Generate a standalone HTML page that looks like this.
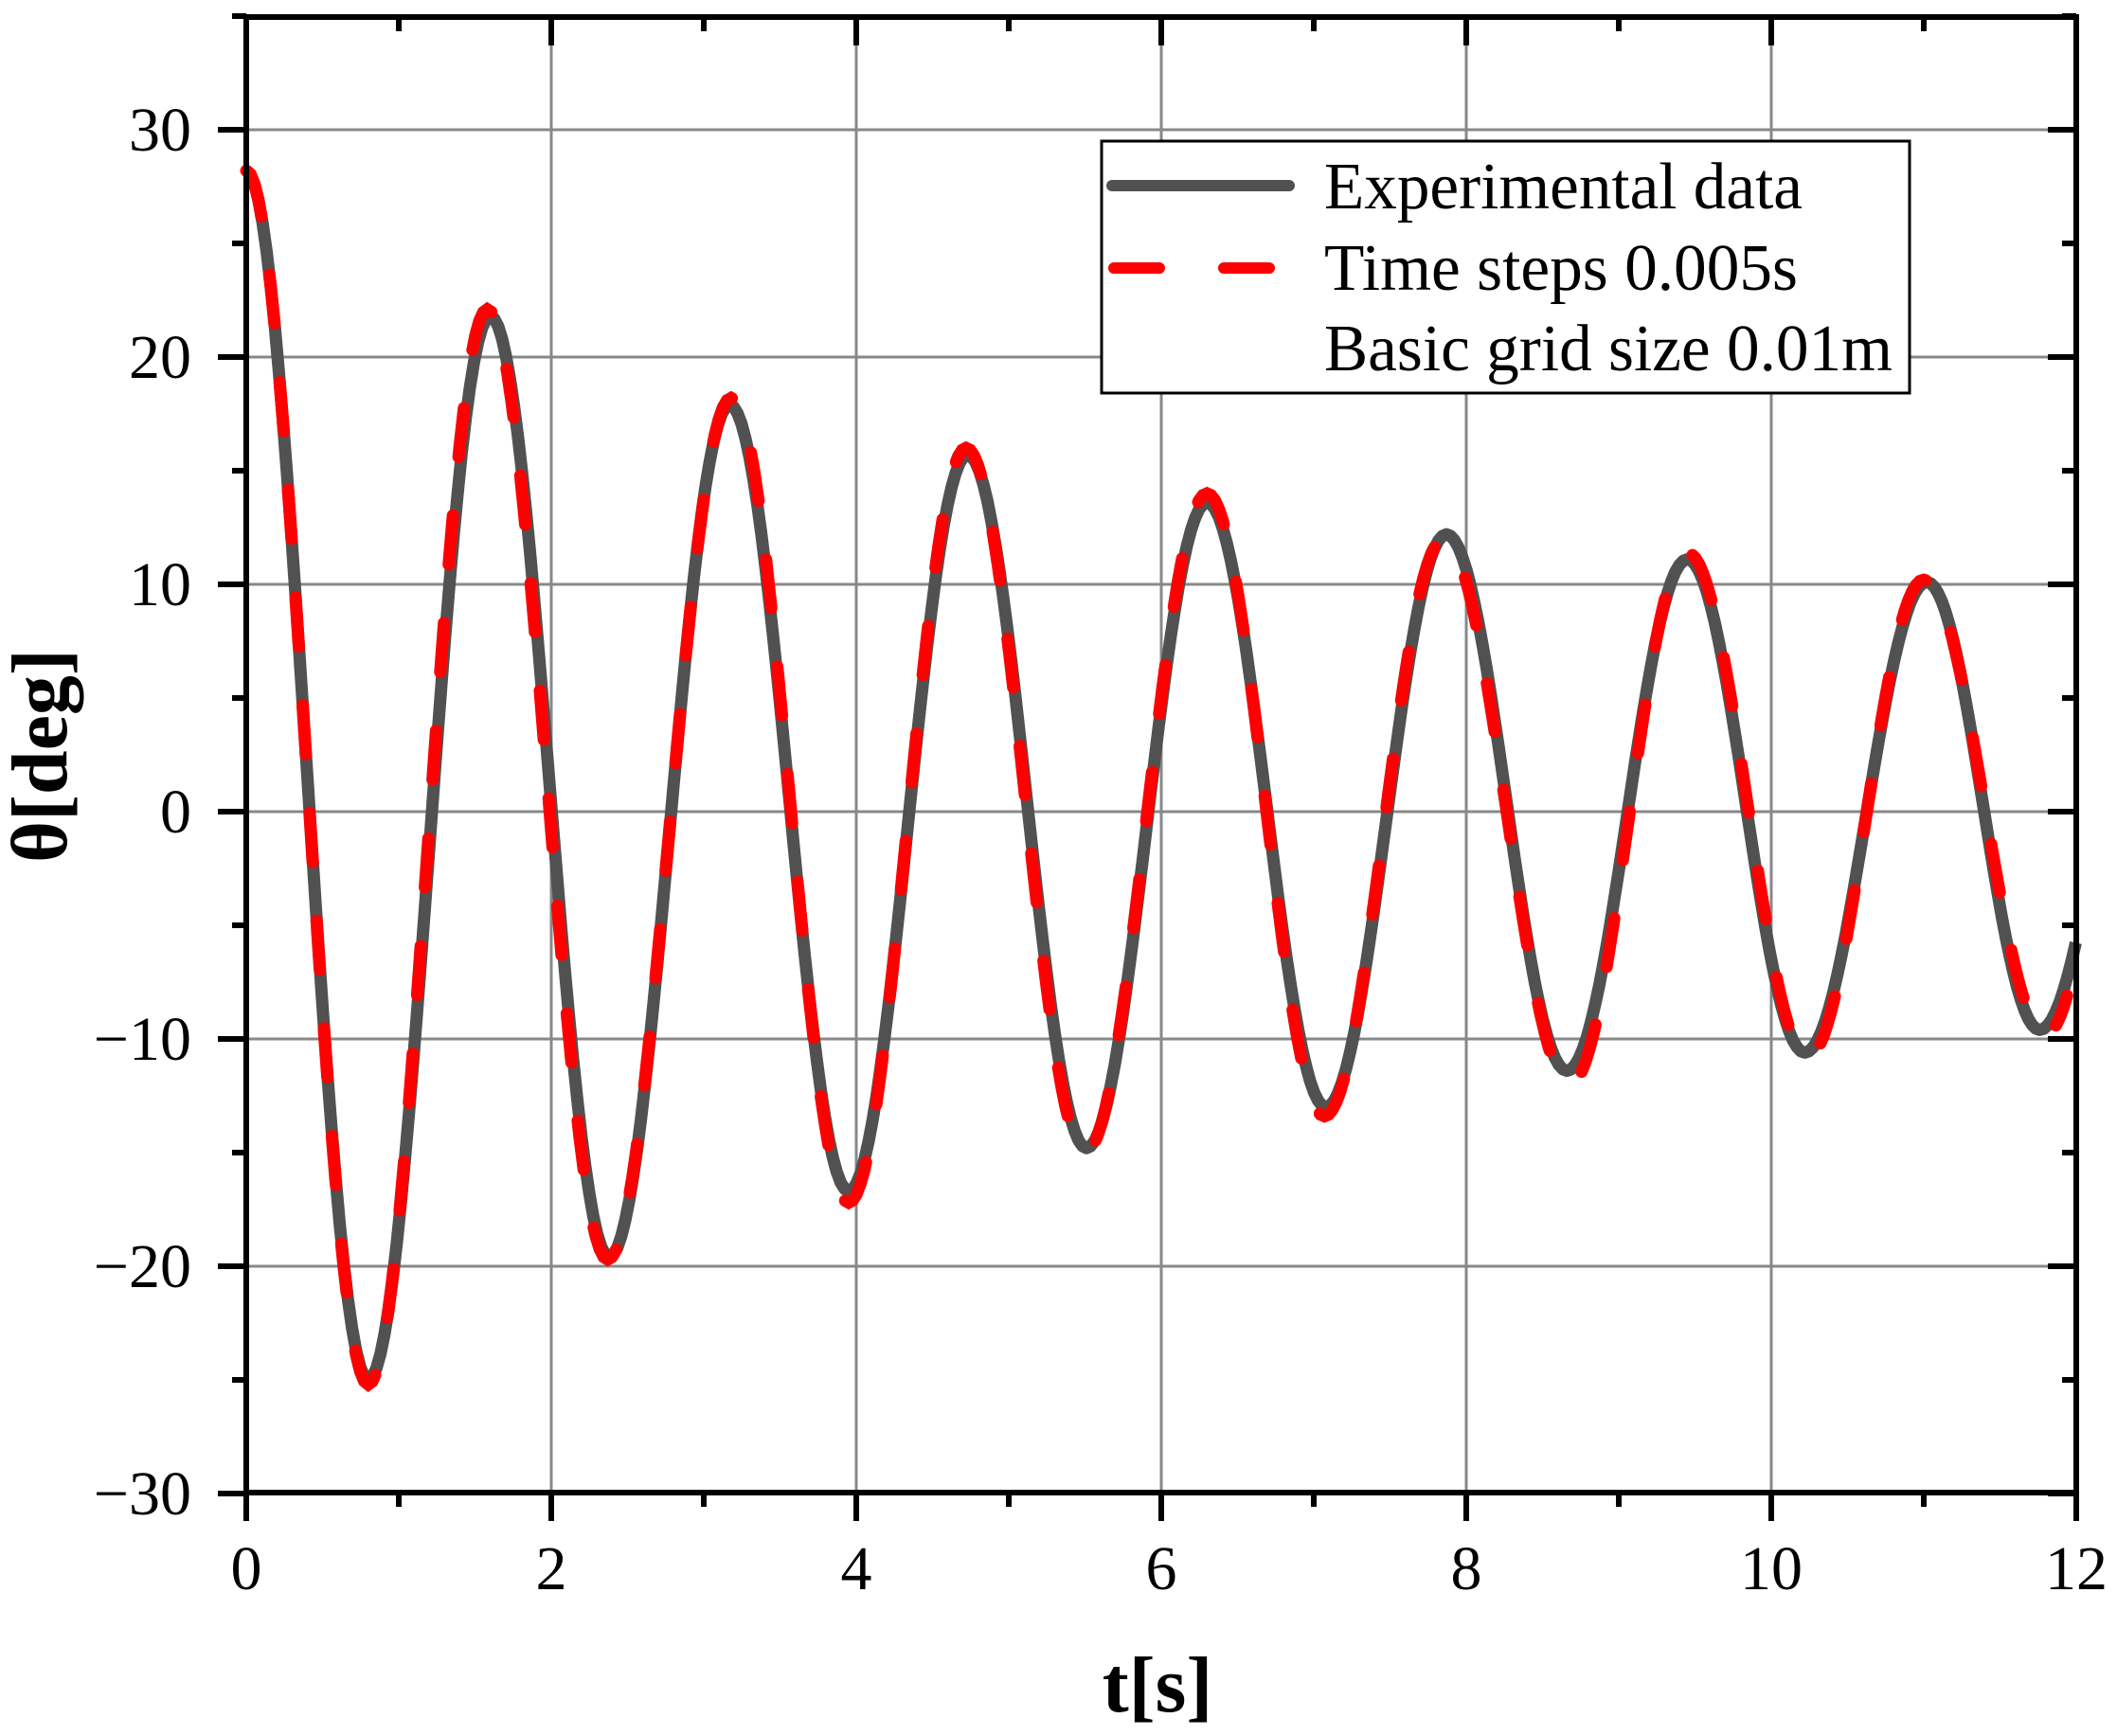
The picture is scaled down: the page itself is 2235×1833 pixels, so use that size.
<!DOCTYPE html>
<html><head><meta charset="utf-8"><style>
html,body{margin:0;padding:0;background:#fff}
svg{display:block}
text{font-family:"Liberation Serif","Times New Roman",serif;fill:#000}
</style></head><body>
<svg id="s" xmlns="http://www.w3.org/2000/svg" width="2235" height="1833" viewBox="0 0 2235 1833">
<rect width="2235" height="1833" fill="#fff"/>
<g id="grid" stroke="#888" stroke-width="3"></g>
<path id="gray" fill="none" stroke="#515151" stroke-width="13" stroke-linejoin="round"/>
<path id="red" fill="none" stroke="#ff0000" stroke-width="13" stroke-linecap="round" stroke-dasharray="52 62"/>
<g id="ticks" stroke="#000"></g>
<rect x="260" y="18" width="1932" height="1558" fill="none" stroke="#000" stroke-width="6"/>
<g id="labels" font-size="66"></g>
<!-- legend -->
<rect x="1163" y="149" width="853" height="266" fill="#fff" stroke="#000" stroke-width="3"/>
<line x1="1174" y1="196" x2="1361" y2="196" stroke="#515151" stroke-width="12" stroke-linecap="round"/>
<line x1="1176" y1="283" x2="1361" y2="283" stroke="#ff0000" stroke-width="12" stroke-linecap="round" stroke-dasharray="48 68"/>
<text x="1398" y="220" font-size="70" textLength="505" lengthAdjust="spacingAndGlyphs">Experimental data</text>
<text x="1398" y="306" font-size="70" textLength="500" lengthAdjust="spacingAndGlyphs">Time steps 0.005s</text>
<text x="1398" y="391" font-size="70" textLength="600" lengthAdjust="spacingAndGlyphs">Basic grid size 0.01m</text>
<text x="1222" y="1807" font-size="84" font-weight="bold" text-anchor="middle">t[s]</text>
<text transform="translate(70,798) rotate(-90)" font-size="84" font-weight="bold" text-anchor="middle">θ[deg]</text>
</svg>
<script>
var X=function(t){return 260+t*161;}, Y=function(v){return 1577-(v+30)*24;};
var NS="http://www.w3.org/2000/svg";
function el(p,n,a){var e=document.createElementNS(NS,n);for(var k in a)e.setAttribute(k,a[k]);p.appendChild(e);return e;}
var grid=document.getElementById('grid'),ticks=document.getElementById('ticks'),lab=document.getElementById('labels');
for(var t=2;t<12;t+=2)el(grid,'line',{x1:X(t),y1:18,x2:X(t),y2:1576});
for(var v=-20;v<=30;v+=10)el(grid,'line',{x1:260,y1:Y(v),x2:2192,y2:Y(v)});
for(var t=0;t<=12;t++){var maj=t%2==0,L=maj?30:15;
 el(ticks,'line',{x1:X(t),y1:1576,x2:X(t),y2:1576+L,'stroke-width':6});
 el(ticks,'line',{x1:X(t),y1:18,x2:X(t),y2:18+L,'stroke-width':6});
 if(maj){var e=el(lab,'text',{x:X(t),y:1678,'text-anchor':'middle'});e.textContent=t;}}
for(var v=-30;v<=35;v+=5){var maj=v%10==0,L=maj?30:15;
 el(ticks,'line',{x1:260,y1:Y(v),x2:260-L,y2:Y(v),'stroke-width':6});
 el(ticks,'line',{x1:2192,y1:Y(v),x2:2192-L,y2:Y(v),'stroke-width':6});
 if(maj){var e=el(lab,'text',{x:202,y:Y(v)+22,'text-anchor':'end'});e.textContent=(v<0?'\u2212':'')+Math.abs(v);}}
function build(ex,tend){var d='';
 for(var i=0;i<ex.length-1;i++){var a=ex[i],b=ex[i+1];
  for(var k=(i==0?0:1);k<=30;k++){var f=k/30,t=a[0]+(b[0]-a[0])*f;if(t>tend)break;
   var v=a[1]+(b[1]-a[1])*(1-Math.cos(Math.PI*f))/2;
   d+=(d?'L':'M')+X(t).toFixed(1)+','+Y(v).toFixed(1);}}
 return d;}
var g=[[0,28.2],[0.8,-25],[1.6,21.8],[2.38,-19.6],[3.17,17.9],[3.95,-16.7],[4.73,15.7],[5.51,-14.8],[6.3,13.6],[7.08,-13],[7.87,12.2],[8.66,-11.4],[9.45,11.1],[10.22,-10.6],[11.02,10.1],[11.76,-9.6],[12.55,9]];
var r=[[0,28.2],[0.8,-25.2],[1.58,22.1],[2.37,-19.7],[3.18,18.2],[3.95,-17.2],[4.72,16],[5.5,-15],[6.3,14],[7.07,-13.4],[7.85,12],[8.68,-12],[9.45,11.4],[10.24,-10.8],[11.0,10.2],[11.8,-9.8],[12.5,8]];
document.getElementById('gray').setAttribute('d',build(g,12));
document.getElementById('red').setAttribute('d',build(r,11.96));
</script>
</body></html>
